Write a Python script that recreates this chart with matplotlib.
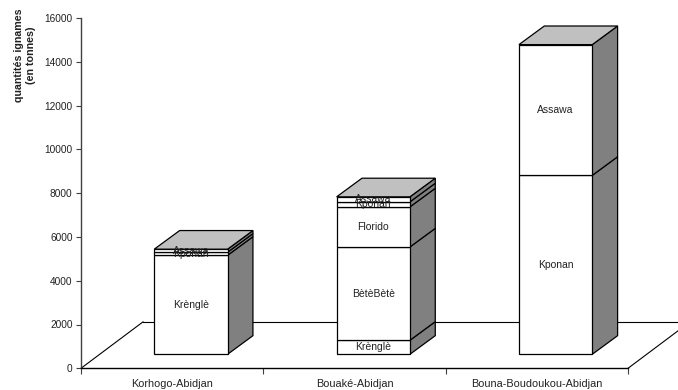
import matplotlib
matplotlib.use("Agg")
import matplotlib.pyplot as plt
from matplotlib.patches import Polygon

plt.rcParams['font.family'] = ['Liberation Sans', 'DejaVu Sans']

ROUTES = ["Korhogo-Abidjan", "Bouaké-Abidjan", "Bouna-Boudoukou-Abidjan"]
YAMS = [
    ["Krènglè", "Kponan", "Assawa"],
    ["Krènglè", "BètèBètè", "Florido", "Kponan", "Assawa"],
    ["Kponan", "Assawa"],
]
TONNES = [
    [4520, 140, 140],
    [640, 4260, 1830, 230, 230],
    [8170, 5970],
]
YTICKS = [0, 2000, 4000, 6000, 8000, 10000, 12000, 14000, 16000]

# fake 3D: how far the floor and the bars recede, in data units
FLOOR_DX, FLOOR_DY = 0.34, 2120
BAR_DX, BAR_DY = 0.139, 850
BASE_Y = 640
BAR_LEFT = 0.402
BAR_W = 0.402

W, H = 678, 390
fig = plt.figure(figsize=(W / 100, H / 100), dpi=100)
ax = fig.add_axes([81 / W, (H - 368.3) / H, 547 / W, 350.4 / H])
ax.set_xlim(0, 3)
ax.set_ylim(0, 16000)
ax.patch.set_alpha(0)

for s in ['top', 'right']:
    ax.spines[s].set_visible(False)
ax.spines['left'].set_color('#404040')
ax.spines['left'].set_linewidth(1.0)
ax.spines['bottom'].set_linewidth(1.0)

ax.set_yticks(YTICKS)
ax.tick_params(axis='y', length=3.6, width=0.8, labelsize=7.3, pad=2.5, color='#404040',
               labelcolor='#222222')
ax.set_xticks([0, 1, 2, 3])
ax.set_xticklabels([])
ax.tick_params(axis='x', length=4, width=0.8, color='#404040')
for i, route in enumerate(ROUTES):
    ax.annotate(route, xy=(i + 0.5, 0), xytext=(0, -15.5), textcoords='offset pixels',
                ha='center', va='center', fontsize=7.8, color='#222222', annotation_clip=False)

# floor
ax.plot([0, FLOOR_DX], [0, FLOOR_DY], color='black', lw=0.8, clip_on=False, zorder=1)
ax.plot([FLOOR_DX, 3 + FLOOR_DX], [FLOOR_DY, FLOOR_DY], color='black', lw=0.8, clip_on=False, zorder=1)
ax.plot([3, 3 + FLOOR_DX], [0, FLOOR_DY], color='black', lw=0.8, clip_on=False, zorder=1)

for i in range(len(ROUTES)):
    x0 = i + BAR_LEFT
    x1 = x0 + BAR_W
    y = BASE_Y
    for name, v in zip(YAMS[i], TONNES[i]):
        y2 = y + v
        front = Polygon([(x0, y), (x1, y), (x1, y2), (x0, y2)], fc='white', ec='black', lw=0.9,
                        clip_on=False, zorder=3)
        side = Polygon([(x1, y), (x1 + BAR_DX, y + BAR_DY), (x1 + BAR_DX, y2 + BAR_DY), (x1, y2)],
                       fc='#808080', ec='black', lw=0.9, clip_on=False, zorder=3)
        ax.add_patch(side)
        ax.add_patch(front)
        ax.text((x0 + x1) / 2, (y + y2) / 2, name, ha='center', va='center', fontsize=7.5,
                color='#222222', zorder=5)
        y = y2
    top = Polygon([(x0, y), (x1, y), (x1 + BAR_DX, y + BAR_DY), (x0 + BAR_DX, y + BAR_DY)],
                  fc='#c0c0c0', ec='black', lw=0.9, clip_on=False, zorder=3)
    ax.add_patch(top)

fig.text(25 / W, 1 - 55 / H, "quantités ignames\n(en tonnes)", rotation=90, ha='center', va='center',
         multialignment='center', fontsize=7.7, fontweight='bold', color='#222222', linespacing=1.3)

fig.savefig("out.png", dpi=100)
